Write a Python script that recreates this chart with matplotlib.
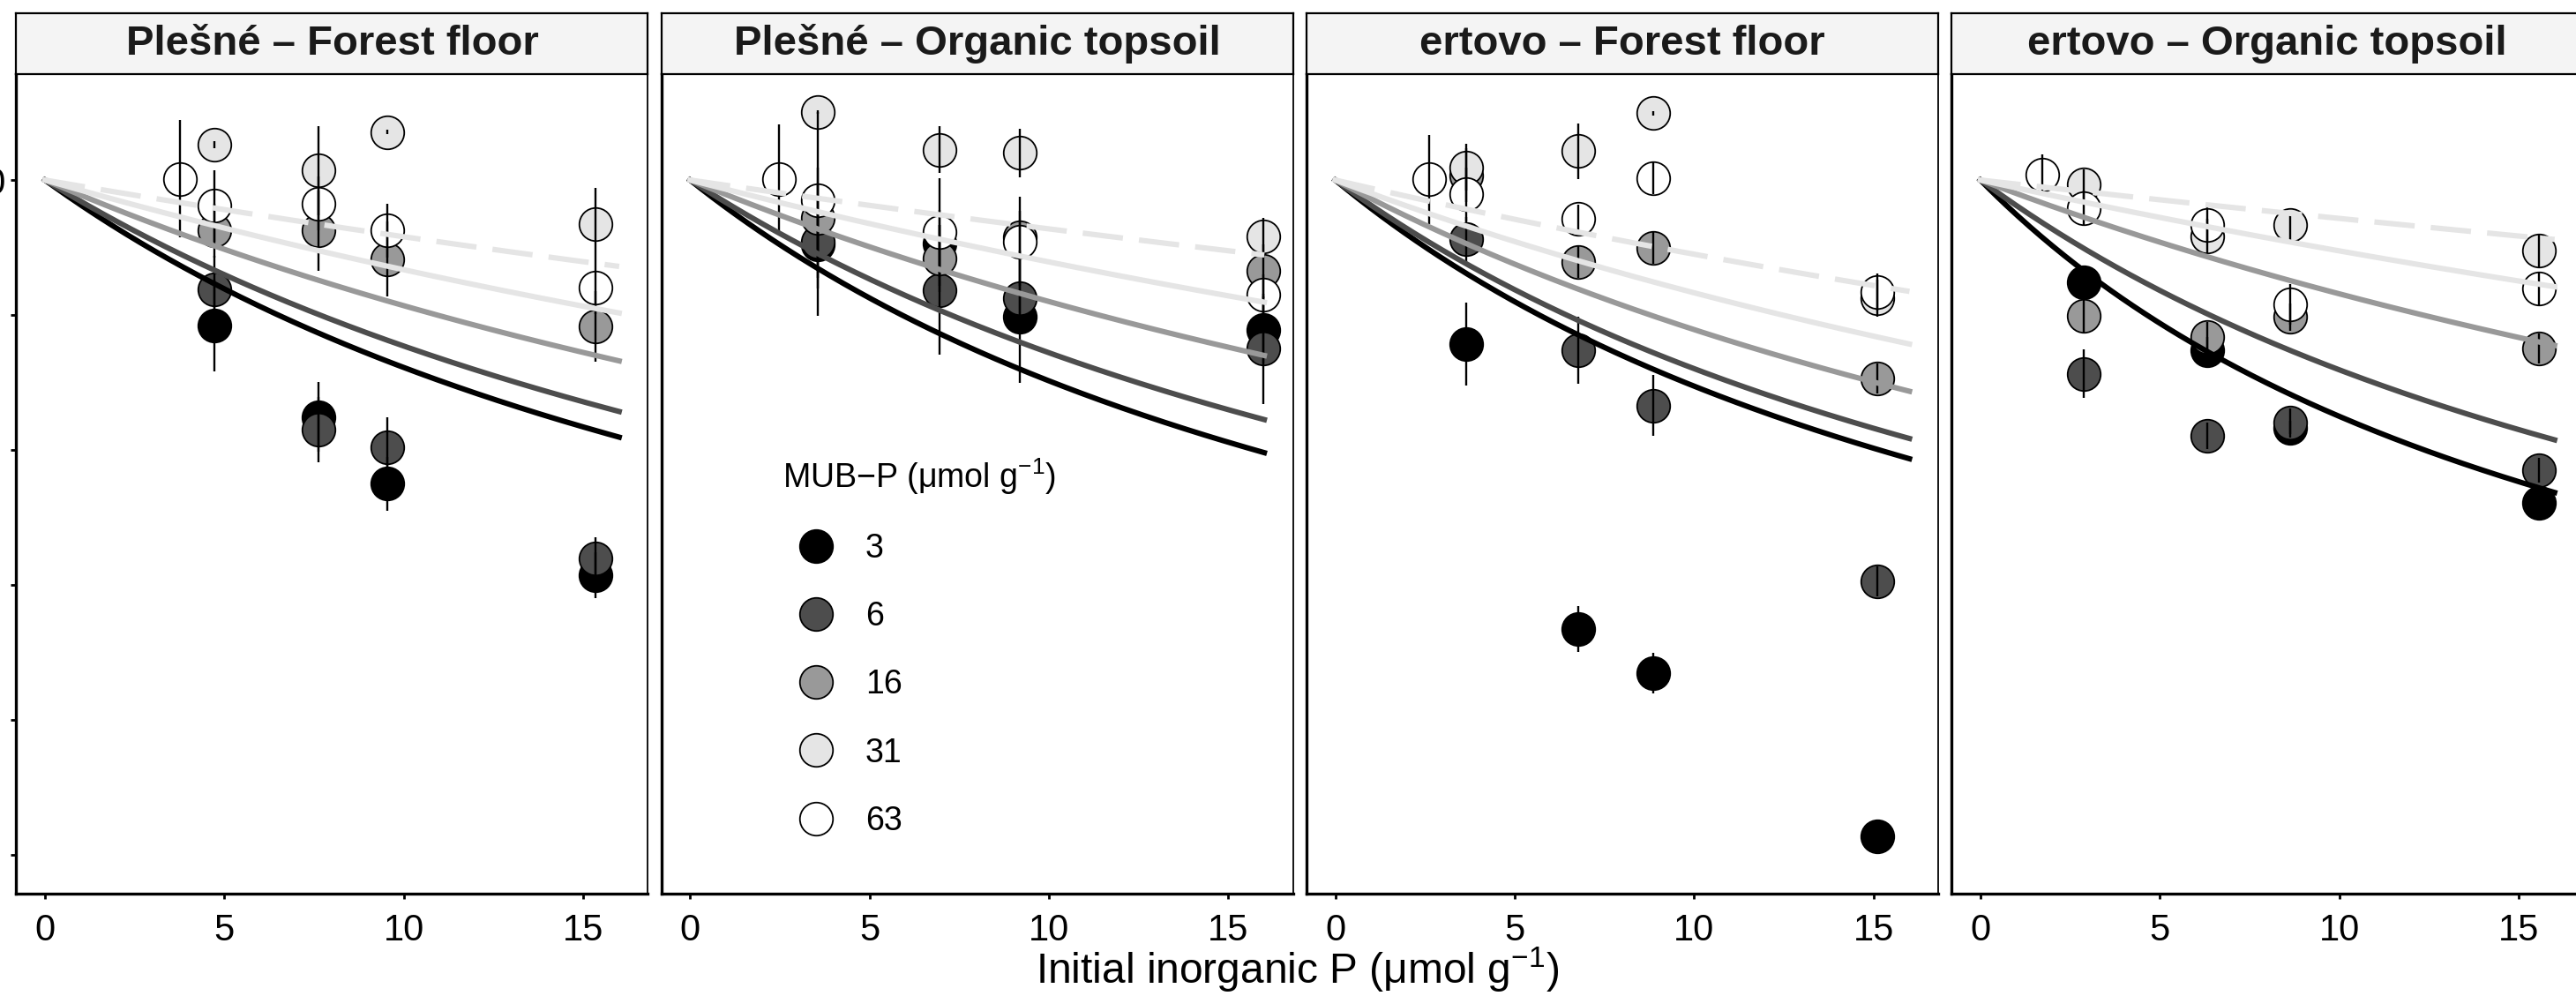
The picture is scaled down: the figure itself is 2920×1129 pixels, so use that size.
import numpy as np
import matplotlib
matplotlib.use('Agg')
import matplotlib.pyplot as plt
from matplotlib.lines import Line2D

plt.rcParams['font.family'] = ['Liberation Sans', 'DejaVu Sans']
plt.rcParams['mathtext.fontset'] = 'custom'
plt.rcParams['mathtext.rm'] = 'Liberation Sans'
plt.rcParams['mathtext.default'] = 'regular'

# Facetas (sitio - horizonte)
panel_titles = ['Plešné – Forest floor', 'Plešné – Organic topsoil',
                'ertovo – Forest floor', 'ertovo – Organic topsoil']

# Niveles de MUB-P y estilos
mub_levels = ['3', '6', '16', '31', '63']
fill_colors = ['#000000', '#4D4D4D', '#999999', '#E5E5E5', '#FFFFFF']
line_colors = ['#000000', '#4D4D4D', '#999999', '#E5E5E5', '#E5E5E5']
line_styles = ['-', '-', '-', '-', '--']

# P inorgánico inicial de cada suelo (eje x), por faceta
pi_sites = [[4.73, 7.62, 9.54, 15.33],
            [3.57, 6.95, 9.18, 15.96],
            [3.66, 6.78, 8.86, 15.11],
            [2.88, 6.33, 8.63, 15.56]]

# Actividad relativa (%), filas = niveles MUB-P (3, 6, 16, 31, 63)
act_plesne_ff = [[78.5, 64.9, 55.0, 41.5],
                 [83.8, 63.0, 60.4, 43.9],
                 [92.5, 92.5, 88.3, 78.3],
                 [105.2, 101.4, 107.1, 93.5],
                 [96.2, 96.5, 92.5, 84.1]]
act_plesne_ot = [[90.5, 90.6, 79.7, 77.8],
                 [90.9, 83.7, 82.5, 75.0],
                 [94.4, 88.4, 91.5, 86.5],
                 [110.1, 104.5, 104.0, 91.6],
                 [97.0, 92.3, 90.9, 83.0]]
act_certovo_ff = [[75.7, 33.5, 26.9, 2.7],
                  [91.2, 74.8, 66.6, 40.5],
                  [100.7, 87.9, 90.0, 70.6],
                  [101.9, 104.3, 109.9, 82.5],
                  [97.9, 94.2, 100.3, 83.4]]
act_certovo_ot = [[84.8, 74.8, 63.3, 52.2],
                  [71.3, 62.1, 64.0, 57.0],
                  [79.9, 76.7, 79.7, 75.0],
                  [99.4, 91.6, 93.3, 89.5],
                  [95.8, 93.3, 81.6, 83.9]]

# Errores (semi-amplitud de la barra)
err_plesne_ff = [[6.8, 5.2, 4.0, 3.4],
                 [5.0, 4.8, 4.5, 3.1],
                 [4.0, 6.0, 5.6, 5.2],
                 [0.5, 6.6, 0.3, 5.4],
                 [5.3, 4.0, 4.0, 4.0]]
err_plesne_ot = [[5.0, 5.0, 9.8, 5.0],
                 [11.0, 9.6, 5.0, 8.2],
                 [5.0, 5.0, 4.0, 4.0],
                 [0.3, 3.5, 3.6, 2.8],
                 [13.1, 8.0, 6.6, 3.0]]
err_certovo_ff = [[6.1, 3.4, 3.0, 0.5],
                  [3.3, 5.0, 4.5, 2.2],
                  [4.0, 2.4, 2.4, 2.2],
                  [3.5, 4.1, 0.3, 2.8],
                  [4.0, 2.1, 2.4, 2.8]]
err_certovo_ot = [[2.0, 2.0, 1.0, 0.5],
                  [3.6, 2.0, 2.2, 1.8],
                  [2.6, 2.3, 2.0, 2.2],
                  [2.2, 2.6, 2.2, 2.4],
                  [2.6, 2.6, 3.0, 2.4]]

# Punto adicional de 63 umol/g en cada faceta
extra63_pi = [3.76, 2.48, 2.62, 1.72]
extra63_act = [100.2, 100.2, 100.1, 100.8]
extra63_err = [8.7, 8.0, 6.6, 3.0]

fit_end_plesne_ff = [61.9, 65.7, 73.2, 80.3, 87.2]
fit_end_plesne_ot = [59.6, 64.5, 74.0, 81.9, 88.9]
fit_end_certovo_ff = [58.7, 61.7, 68.7, 75.7, 83.5]
fit_end_certovo_ot = [53.7, 61.5, 75.5, 84.2, 91.2]
fit_pi_max = 16

acts = [act_plesne_ff, act_plesne_ot, act_certovo_ff, act_certovo_ot]
errs = [err_plesne_ff, err_plesne_ot, err_certovo_ff, err_certovo_ot]
fit_ends = [fit_end_plesne_ff, fit_end_plesne_ot, fit_end_certovo_ff, fit_end_certovo_ot]

W, H = 2920, 1129
fig = plt.figure(figsize=(W / 100, H / 100), dpi=100)

panel_w = 716
panel_step = 731.3
panel_bottom = 116.4
panel_h = 928.6
strip_h = 69

for i in range(4):
    left = 18.4 + i * panel_step
    ax = fig.add_axes([left / W, panel_bottom / H, panel_w / W, panel_h / H])
    sx = fig.add_axes([left / W, (panel_bottom + panel_h) / H, panel_w / W, strip_h / H])

    # Tira del título
    sx.set_facecolor('#F4F4F4')
    sx.set_xticks([])
    sx.set_yticks([])
    for sp in sx.spines.values():
        sp.set_linewidth(1.6)
    sx.text(0.5, 0.5, panel_titles[i], ha='center', va='center',
            fontsize=34, fontweight='bold', color='#1A1A1A', transform=sx.transAxes)

    x = pi_sites[i]
    for k in range(5):
        xs = list(x)
        ys = list(acts[i][k])
        es = list(errs[i][k])
        if k == 4:
            xs = [extra63_pi[i]] + xs
            ys = [extra63_act[i]] + ys
            es = [extra63_err[i]] + es
        ax.plot(xs, ys, 'o', ms=27, mfc=fill_colors[k], mec='black', mew=1.3, zorder=2)
        ax.errorbar(xs, ys, yerr=es, fmt='none', ecolor='black', elinewidth=1.7,
                    capsize=0, zorder=3)

    # Curvas del modelo de inhibición
    xl = np.linspace(0, fit_pi_max, 200)
    for k in range(5):
        a = (100.0 / fit_ends[i][k] - 1) / fit_pi_max
        yl = 100.0 / (1 + a * xl)
        if line_styles[k] == '--':
            ax.plot(xl, yl, color=line_colors[k], lw=4.4, dashes=(7.5, 3), zorder=4)
        else:
            ax.plot(xl, yl, color=line_colors[k], lw=4.4, zorder=4)

    ax.set_xlim(-0.8, 16.8)
    ax.set_ylim(-5.7, 115.7)
    ax.set_xticks([0, 5, 10, 15])
    ax.tick_params(axis='x', labelsize=30, length=4, width=2, pad=12)
    ax.spines['left'].set_linewidth(2.4)
    ax.spines['bottom'].set_linewidth(2.4)
    ax.spines['top'].set_linewidth(1.3)
    ax.spines['right'].set_linewidth(1.3)

    if i == 0:
        ax.set_yticks([0, 20, 40, 60, 80, 100])
        ax.tick_params(axis='y', labelsize=30, length=4, width=2, pad=29)
        for t in ax.get_yticklabels():
            t.set_horizontalalignment('center')
    else:
        ax.set_yticks([])

    if i == 1:
        handles = [Line2D([], [], ls='none', marker='o', ms=27, mfc=fill_colors[k],
                          mec='black', mew=1.3) for k in range(5)]
        leg = ax.legend(handles, mub_levels, title='MUB−P (μmol g$^{-1}$)',
                        loc='upper left', bbox_to_anchor=(887 / W, 1 - 517 / H),
                        bbox_transform=fig.transFigure, frameon=False,
                        fontsize=27, title_fontsize=27, borderpad=0, borderaxespad=0,
                        handlelength=2.0, handletextpad=0.5, labelspacing=1.1,
                        alignment='left')

fig.text(1471 / W, 1 - 1099 / H, 'Initial inorganic P (μmol g$^{-1}$)',
         ha='center', va='center', fontsize=34.5)

fig.savefig('out.png', dpi=100)
